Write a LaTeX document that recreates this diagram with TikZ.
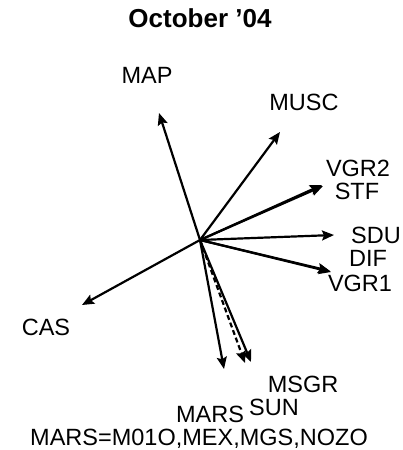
\documentclass[tikz,border=0pt]{standalone}
\usepackage{fontspec}
\setmainfont{Liberation Sans}
\usetikzlibrary{arrows.meta}
\begin{document}
\begin{tikzpicture}
  [x=1pt,y=-1pt,every node/.style={inner sep=0pt,anchor=base,font=\fontsize{23.5}{23.5}\selectfont},
   >={Stealth[length=12pt,width=10pt,inset=2pt]}]
  \tikzstyle{vec} = [->,line width=2.2pt]
  \useasboundingbox (0,0) rectangle (403,450);
  \coordinate (o) at (200,240);
  \node[font=\bfseries\fontsize{26}{26}\selectfont] (title) at (200,27) {October '04};
  \node (map)  at (147,83)  {MAP};
  \node (musc) at (304,110) {MUSC};
  \node (vgr2) at (358,176) {VGR2};
  \node (stf)  at (357,199) {STF};
  \node (sdu)  at (376,243) {SDU};
  \node (dif)  at (368,266) {DIF};
  \node (vgr1) at (360,291) {VGR1};
  \node (cas)  at (46,335)  {CAS};
  \node (msgr) at (303,392) {MSGR};
  \node (sun)  at (274,415) {SUN};
  \node (mars) at (210,422) {MARS};
  \node (key) at (199,445) {MARS=M01O,MEX,MGS,NOZO};
  % arrow ends
  \coordinate (tmap)  at (159,113);
  \coordinate (tmusc) at (280,132);
  \coordinate (tvgr2) at (322,185);
  \coordinate (tstf)  at (323,186);
  \coordinate (tsdu)  at (334,235);
  \coordinate (tdif)  at (330,271);
  \coordinate (tvgr1) at (331,272);
  \coordinate (tcas)  at (82,305);
  \coordinate (tmars) at (224,369);
  \coordinate (tsun)  at (245,363);
  \coordinate (tmsgr) at (251,362);
  \foreach \dest in {tmap,tmusc,tvgr2,tstf,tsdu,tdif,tvgr1,tcas,tmars,tmsgr}
   \draw[vec] (o) -- (\dest);
  \draw[vec,dash pattern=on 5pt off 3pt] (o) -- (tsun);
\end{tikzpicture}
\end{document}
